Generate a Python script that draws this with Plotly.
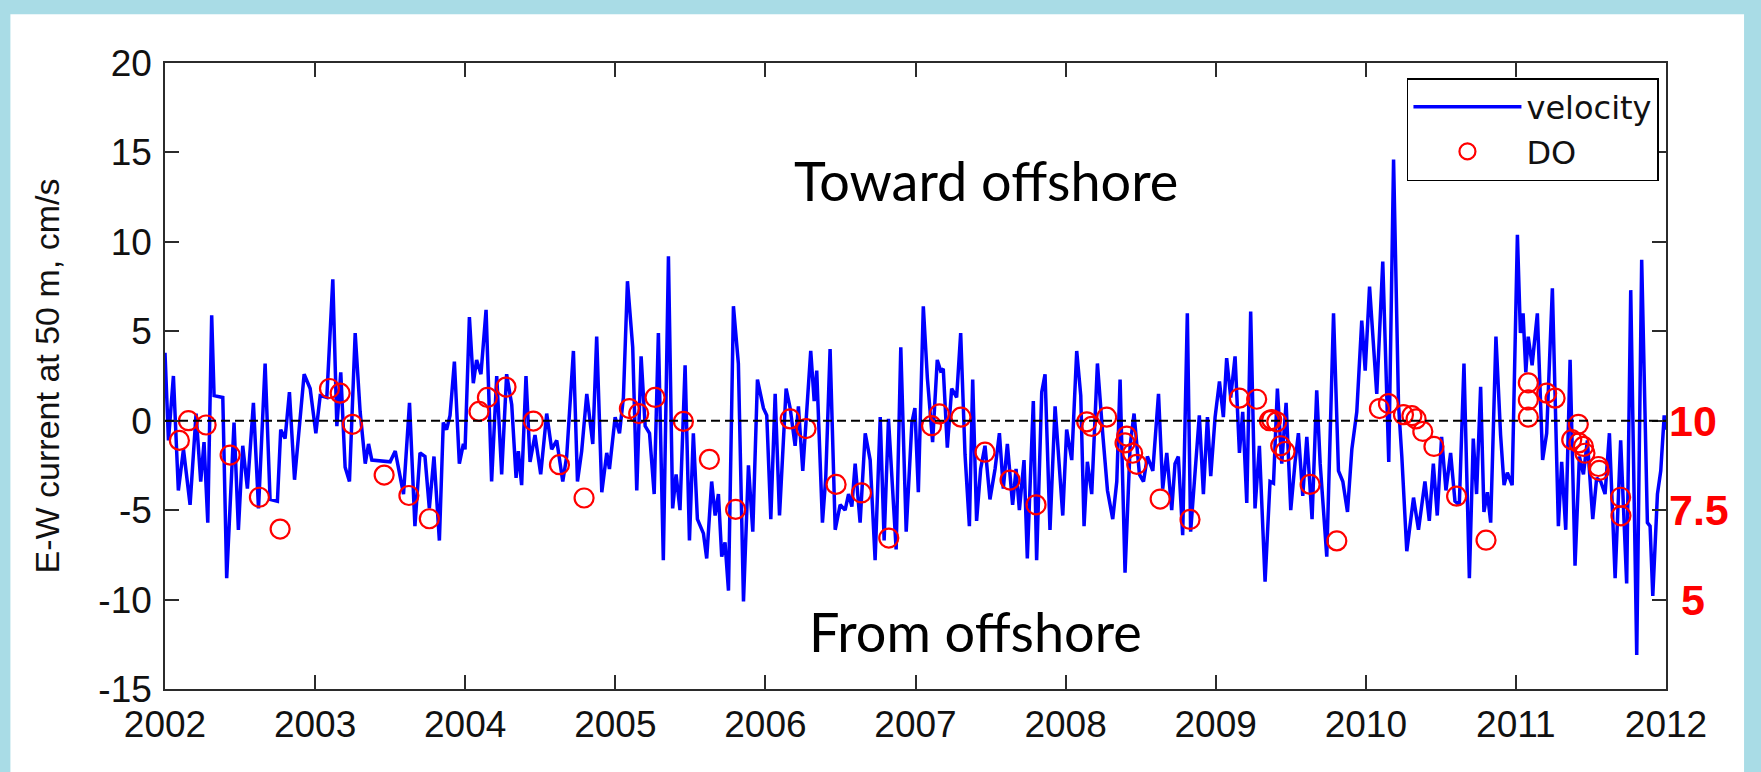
import plotly.graph_objects as go

# E-W current at 50 m (cm/s), decimal years
vel_year = [
    2002.000, 2002.023, 2002.056, 2002.089, 2002.123, 2002.167, 2002.207, 2002.238, 2002.260, 2002.285,
    2002.311, 2002.327, 2002.385, 2002.411, 2002.460, 2002.489, 2002.518, 2002.549, 2002.589, 2002.623,
    2002.667, 2002.700, 2002.749, 2002.771, 2002.800, 2002.829, 2002.863, 2002.927, 2002.967, 2003.005,
    2003.034, 2003.078, 2003.118, 2003.145, 2003.171, 2003.200, 2003.229, 2003.267, 2003.300, 2003.334,
    2003.356, 2003.378, 2003.500, 2003.534, 2003.589, 2003.629, 2003.665, 2003.699, 2003.732, 2003.761,
    2003.792, 2003.828, 2003.854, 2003.876, 2003.899, 2003.928, 2003.961, 2003.988, 2003.999, 2004.028,
    2004.054, 2004.076, 2004.105, 2004.139, 2004.176, 2004.210, 2004.243, 2004.276, 2004.310, 2004.339,
    2004.354, 2004.376, 2004.405, 2004.432, 2004.465, 2004.503, 2004.543, 2004.576, 2004.610, 2004.650,
    2004.676, 2004.721, 2004.748, 2004.776, 2004.810, 2004.850, 2004.876, 2004.910, 2004.943, 2004.961,
    2004.999, 2005.028, 2005.054, 2005.081, 2005.116, 2005.143, 2005.172, 2005.199, 2005.228, 2005.259,
    2005.287, 2005.320, 2005.354, 2005.382, 2005.405, 2005.431, 2005.465, 2005.494, 2005.520, 2005.547,
    2005.587, 2005.609, 2005.642, 2005.665, 2005.687, 2005.709, 2005.731, 2005.754, 2005.787, 2005.820,
    2005.854, 2005.887, 2005.916, 2005.947, 2005.987, 2006.009, 2006.036, 2006.065, 2006.094, 2006.138,
    2006.165, 2006.198, 2006.220, 2006.249, 2006.302, 2006.325, 2006.342, 2006.380, 2006.402, 2006.431,
    2006.465, 2006.498, 2006.531, 2006.554, 2006.576, 2006.598, 2006.631, 2006.665, 2006.698, 2006.731,
    2006.765, 2006.791, 2006.820, 2006.871, 2006.902, 2006.938, 2006.976, 2006.996, 2007.019, 2007.052,
    2007.079, 2007.114, 2007.145, 2007.167, 2007.185, 2007.212, 2007.241, 2007.274, 2007.301, 2007.330,
    2007.359, 2007.381, 2007.407, 2007.434, 2007.463, 2007.496, 2007.530, 2007.559, 2007.585, 2007.612,
    2007.647, 2007.670, 2007.692, 2007.723, 2007.745, 2007.785, 2007.807, 2007.841, 2007.863, 2007.896,
    2007.930, 2007.959, 2007.981, 2008.007, 2008.041, 2008.074, 2008.101, 2008.123, 2008.145, 2008.174,
    2008.212, 2008.247, 2008.279, 2008.314, 2008.341, 2008.363, 2008.396, 2008.430, 2008.456, 2008.492,
    2008.519, 2008.545, 2008.581, 2008.619, 2008.647, 2008.674, 2008.707, 2008.729, 2008.751, 2008.780,
    2008.811, 2008.833, 2008.862, 2008.891, 2008.918, 2008.945, 2008.967, 2008.996, 2009.025, 2009.051,
    2009.073, 2009.100, 2009.129, 2009.158, 2009.180, 2009.207, 2009.233, 2009.262, 2009.291, 2009.329,
    2009.362, 2009.385, 2009.411, 2009.440, 2009.469, 2009.500, 2009.529, 2009.551, 2009.580, 2009.607,
    2009.642, 2009.673, 2009.696, 2009.740, 2009.785, 2009.818, 2009.847, 2009.878, 2009.907, 2009.940,
    2009.973, 2009.996, 2010.025, 2010.051, 2010.073, 2010.113, 2010.153, 2010.185, 2010.218, 2010.240,
    2010.273, 2010.318, 2010.351, 2010.394, 2010.423, 2010.450, 2010.476, 2010.505, 2010.534, 2010.565,
    2010.594, 2010.623, 2010.654, 2010.690, 2010.716, 2010.738, 2010.765, 2010.787, 2010.810, 2010.832,
    2010.867, 2010.898, 2010.921, 2010.943, 2010.975, 2011.010, 2011.030, 2011.048, 2011.066, 2011.082,
    2011.108, 2011.143, 2011.178, 2011.205, 2011.243, 2011.283, 2011.305, 2011.332, 2011.361, 2011.394,
    2011.423, 2011.450, 2011.476, 2011.512, 2011.538, 2011.565, 2011.594, 2011.623, 2011.661, 2011.698,
    2011.738, 2011.765, 2011.805, 2011.838, 2011.876, 2011.894, 2011.912, 2011.943, 2011.965, 2011.988,
    2012.000,
]
vel_cms = [
    3.8, -1.1, 2.5, -3.9, -1.6, -4.7, 0.4, -3.4, -1.2, -5.7,
    5.9, 1.4, 1.3, -8.8, -0.1, -6.1, -1.4, -3.8, 1.0, -4.9,
    3.2, -4.4, -4.5, -0.5, -1.0, 1.6, -3.3, 2.6, 1.8, -0.7,
    1.4, 1.3, 7.9, -0.3, 2.7, -2.6, -3.4, 4.9, 0.5, -2.4,
    -1.3, -2.2, -2.3, -1.7, -4.1, 1.0, -5.9, -1.8, -2.0, -4.9,
    -2.0, -6.7, -0.1, -0.5, 0.3, 3.3, -2.4, -1.3, -1.6, 5.8,
    2.1, 3.4, 2.6, 6.2, -3.4, 2.5, -3.0, 2.6, 0.9, -3.2,
    -1.7, -3.6, 2.5, -2.3, -0.8, -3.0, 0.4, -1.6, -1.1, -3.4,
    -2.0, 3.9, -3.4, -1.7, 1.5, -1.3, 4.7, -4.0, -1.8, -2.7,
    0.2, -0.7, 1.3, 7.8, 4.1, -3.9, 3.6, -0.3, -0.7, -4.1,
    4.9, -7.8, 9.2, -4.9, -3.0, -5.0, 3.1, -6.7, -0.7, -5.5,
    -6.3, -7.7, -3.4, -5.3, -4.1, -7.6, -6.8, -9.5, 6.4, 3.2,
    -10.1, -2.5, -6.2, 2.3, 0.7, 0.3, -5.5, 1.5, -5.3, 1.8,
    0.7, -1.4, 0.8, -2.8, 3.9, 1.1, 2.8, -5.7, -3.2, 4.0,
    -6.1, -4.7, -5.0, -4.1, -4.8, -2.4, -5.7, -0.7, -2.2, -7.8,
    0.2, -6.7, 0.1, -7.2, 4.1, -6.2, -0.1, 0.7, -4.0, 6.4,
    2.4, -1.2, 3.4, 2.8, 2.9, -1.5, 1.8, 1.3, 4.9, -1.9,
    -5.9, 2.3, -5.6, -2.7, -1.4, -4.4, -2.7, -0.7, -3.8, -1.3,
    -4.7, -2.7, -5.0, -2.2, -7.7, 1.1, -7.8, 1.6, 2.6, -6.1,
    0.8, -2.8, -5.3, -0.5, -2.2, 3.9, 1.4, -5.9, -2.3, -4.1,
    3.2, -0.7, -3.9, -5.5, -3.4, 2.3, -8.5, -1.4, 0.4, -3.0,
    -3.4, -2.0, -2.8, 1.5, -3.8, -1.8, -5.0, -2.4, -2.0, -6.4,
    6.0, -6.2, -3.2, 0.3, -4.1, 0.2, -3.1, 0.2, 2.2, 0.2,
    3.5, 1.3, 3.6, -1.8, 0.5, -4.6, 6.1, -4.9, -1.4, -9.0,
    -3.4, -3.5, 1.8, -2.4, 1.0, -5.0, -2.3, -0.7, -4.2, -0.9,
    -5.5, 1.7, -2.4, -7.6, 6.0, -2.8, -3.4, -5.1, -1.6, 0.5,
    5.6, 2.8, 7.5, 4.3, 1.5, 8.9, -2.3, 14.6, 0.9, -2.0,
    -7.3, -4.3, -6.1, -3.4, -5.6, -2.4, -5.3, -0.9, -3.9, -1.8,
    -4.5, -4.7, 3.2, -8.8, -1.0, -4.1, 1.9, -5.1, -4.0, -5.7,
    4.7, -0.8, -3.6, -2.9, -3.6, 10.4, 4.9, 6.0, 2.7, 4.7,
    3.1, 6.0, -2.2, -0.7, 7.4, -5.9, -2.3, -6.1, 3.4, -8.1,
    -2.0, -3.0, -1.1, -5.5, -3.2, -3.4, -4.1, -0.7, -8.8, -1.1,
    -9.1, 7.3, -13.1, 9.0, -5.7, -5.9, -9.8, -4.1, -2.8, 0.3,
    -0.5,
]

# dissolved oxygen samples (right-hand scale, 10 at 0 cm/s, 5 at -10 cm/s)
do_year = [
    2002.096, 2002.156, 2002.274, 2002.434, 2002.629, 2002.767, 2003.096, 2003.167, 2003.249, 2003.460,
    2003.625, 2003.761, 2004.092, 2004.148, 2004.272, 2004.454, 2004.628, 2004.792, 2005.094, 2005.156,
    2005.265, 2005.454, 2005.627, 2005.802, 2006.165, 2006.271, 2006.471, 2006.640, 2006.822, 2007.107,
    2007.159, 2007.303, 2007.463, 2007.630, 2007.803, 2008.141, 2008.174, 2008.274, 2008.396, 2008.407,
    2008.447, 2008.474, 2008.630, 2008.829, 2009.158, 2009.273, 2009.358, 2009.373, 2009.407, 2009.433,
    2009.462, 2009.629, 2009.807, 2010.091, 2010.151, 2010.251, 2010.307, 2010.335, 2010.380, 2010.454,
    2010.605, 2010.801, 2011.083, 2011.083, 2011.083, 2011.205, 2011.261, 2011.372, 2011.416, 2011.420,
    2011.450, 2011.460, 2011.550, 2011.555, 2011.698, 2011.700,
]
do_mgl = [
    9.45, 10.00, 9.88, 9.04, 7.86, 6.97, 10.90, 10.77, 9.90, 8.48,
    7.91, 7.26, 10.26, 10.65, 10.94, 9.99, 8.77, 7.84, 10.34, 10.20,
    10.65, 9.98, 8.92, 7.52, 10.05, 9.78, 8.22, 7.98, 6.72, 9.86,
    10.19, 10.10, 9.12, 8.34, 7.65, 9.97, 9.84, 10.10, 9.38, 9.57,
    9.09, 8.78, 7.81, 7.24, 10.63, 10.60, 10.00, 10.03, 9.97, 9.30,
    9.14, 8.22, 6.64, 10.34, 10.48, 10.17, 10.14, 10.05, 9.70, 9.28,
    7.89, 6.66, 11.06, 10.58, 10.10, 10.77, 10.63, 9.47, 9.90, 9.38,
    9.28, 9.09, 8.72, 8.61, 7.86, 7.34,
]

year_ticks = list(range(2002, 2013))
vel_ticks = [-15, -10, -5, 0, 5, 10, 15, 20]
vel_tick_text = ['-15', '-10', '-5', '0', '5', '10', '15', '20']
do_ticks = [5, 7.5, 10]
do_tick_text = ['\u20085', '7.5', '10']

colors = {
    'velocity': '#0000ff',
    'do': '#ff0000',
    'axis': '#2b2b2b',
    'frame': '#a9dce6',
}
tick_font = dict(family='Liberation Sans, Arial, sans-serif', size=37, color='#111111')

fig = go.Figure()

fig.add_trace(go.Scatter(
    x=vel_year, y=vel_cms, mode='lines', name='velocity',
    line=dict(color=colors['velocity'], width=3.5),
))
fig.add_trace(go.Scatter(
    x=do_year, y=do_mgl, mode='markers', name='DO', yaxis='y2',
    marker=dict(symbol='circle-open', size=19, color=colors['do'], line=dict(width=2.2, color=colors['do'])),
))

fig.add_hline(y=0, line=dict(color='black', width=2, dash='9px,5px'))

# white slide area with a light blue frame round it
fig.add_shape(
    type='rect', xref='paper', yref='paper',
    x0=-0.103, x1=1.052, y0=-0.14, y1=1.078,
    fillcolor='white', line=dict(width=0), layer='below',
)

fig.add_annotation(
    x=2007.47, y=13.45, text='Toward offshore', showarrow=False,
    font=dict(family='Lato, sans-serif', size=54, color='black'),
)
fig.add_annotation(
    x=2007.40, y=-11.8, text='From offshore', showarrow=False,
    font=dict(family='Lato, sans-serif', size=54, color='black'),
)

fig.update_layout(
    width=1761, height=772,
    margin=dict(l=165, r=95, t=63, b=83),
    paper_bgcolor=colors['frame'],
    plot_bgcolor='white',
    showlegend=True,
    legend=dict(
        x=0.9953, y=0.976, xanchor='right', yanchor='top',
        bgcolor='white', bordercolor='black', borderwidth=1.5,
        font=dict(family='DejaVu Sans, sans-serif', size=32, color='#111111'),
        itemwidth=108, tracegroupgap=0,
    ),
    xaxis=dict(
        range=[2002, 2012], tickvals=year_ticks, tickformat='d',
        ticks='inside', ticklen=14, tickwidth=1.5, tickcolor=colors['axis'],
        showline=True, linecolor=colors['axis'], linewidth=1.5, mirror='ticks',
        showgrid=False, zeroline=False, tickfont=tick_font, ticklabelstandoff=2,
    ),
    yaxis=dict(
        range=[-15, 20], tickvals=vel_ticks, ticktext=vel_tick_text,
        ticks='inside', ticklen=14, tickwidth=1.5, tickcolor=colors['axis'],
        showline=True, linecolor=colors['axis'], linewidth=1.5, mirror='ticks',
        showgrid=False, zeroline=False, tickfont=tick_font, ticklabelstandoff=4,
        title=dict(text='E-W current at 50 m, cm/s', standoff=28,
                   font=dict(family='Liberation Sans, Arial, sans-serif', size=34, color='#111111')),
    ),
    yaxis2=dict(
        overlaying='y', side='right', range=[2.5, 20],
        tickvals=do_ticks, ticktext=do_tick_text, ticks='',
        showline=False, showgrid=False, zeroline=False, ticklabelstandoff=2,
        tickfont=dict(family='Liberation Sans, Arial, sans-serif', size=43, color='#ff0000', weight='bold'),
    ),
)

# the page's default body margin would push the figure 8 px off the window
fig.write_html('out.html', config={'displayModeBar': False},
               post_script="document.body.style.margin='0';")
